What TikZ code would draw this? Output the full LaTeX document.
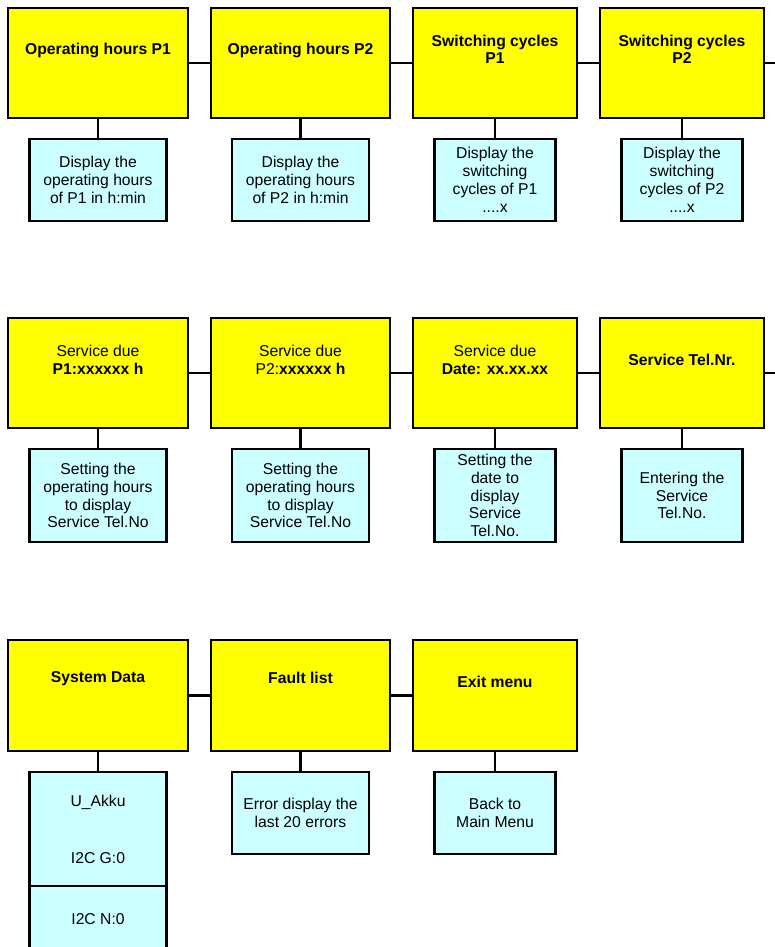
\documentclass[tikz,border=0pt]{standalone}
\usepackage{fontspec}
\setmainfont{Liberation Sans}
\definecolor{ybg}{HTML}{FFFF00}
\definecolor{bbg}{HTML}{CCFFFF}
\begin{document}
\begin{tikzpicture}[x=1pt,y=-1pt,
  every node/.style={font=\fontsize{15.7}{17.8}\selectfont},
  ybox/.style={draw, line width=2.6pt, fill=ybg, inner sep=0pt, minimum height=110pt},
  bbox/.style={draw, line width=2.6pt, fill=bbg, inner sep=0pt, align=center},
  ttl/.style={align=center, inner sep=0pt, font=\fontsize{15.7}{17}\selectfont\bfseries},
  conn/.style={line width=2.6pt}]
\useasboundingbox (0,0) rectangle (774,947);
% ---------- row 1 ----------
\node[ybox, minimum width=180pt] (y1) at (98,63) {};
\node[ybox, minimum width=179pt] (y2) at (300.5,63) {};
\node[ybox, minimum width=164pt] (y3) at (495,63) {};
\node[ybox, minimum width=164pt] (y4) at (682,63) {};
\node[ttl] (t1) at (98,50) {Operating hours P1};
\node[ttl] (t2) at (300.5,50) {Operating hours P2};
\node[ttl] (t3) at (495,49.5) {Switching cycles\\P1};
\node[ttl] (t4) at (682,49.5) {Switching cycles\\P2};
\node[bbox, minimum width=137pt, minimum height=82pt] (b1) at (98,180) {Display the\\operating hours\\of P1 in h:min};
\node[bbox, minimum width=137pt, minimum height=82pt] (b2) at (300.5,180) {Display the\\operating hours\\of P2 in h:min};
\node[bbox, minimum width=121pt, minimum height=82pt] (b3) at (495,180) {Display the\\switching\\cycles of P1\\....x};
\node[bbox, minimum width=121pt, minimum height=82pt] (b4) at (682,180) {Display the\\switching\\cycles of P2\\....x};
\coordinate (e1) at (780,63);
\draw[conn] (y1.east) -- (y2.west);
\draw[conn] (y2.east) -- (y3.west);
\draw[conn] (y3.east) -- (y4.west);
\draw[conn] (y4.east) -- (e1);
\draw[conn] (y1.south) -- (b1.north);
\draw[conn] (y2.south) -- (b2.north);
\draw[conn] (y3.south) -- (b3.north);
\draw[conn] (y4.south) -- (b4.north);
% ---------- row 2 ----------
\node[ybox, minimum width=180pt] (y5) at (98,373) {};
\node[ybox, minimum width=179pt] (y6) at (300.5,373) {};
\node[ybox, minimum width=164pt] (y7) at (495,373) {};
\node[ybox, minimum width=164pt] (y8) at (682,373) {};
\node[align=center, inner sep=0pt] (t5) at (98,360) {Service due\\\textbf{P1:xxxxxx h}};
\node[align=center, inner sep=0pt] (t6) at (300.5,360) {Service due\\P2:\textbf{xxxxxx h}};
\node[align=center, inner sep=0pt] (t7) at (495,360) {Service due\\\textbf{Date: xx.xx.xx}};
\node[ttl] (t8) at (682,360) {Service Tel.Nr.};
\node[bbox, minimum width=137pt, minimum height=93pt] (b5) at (98,495.5) {Setting the\\operating hours\\to display\\Service Tel.No};
\node[bbox, minimum width=137pt, minimum height=93pt] (b6) at (300.5,495.5) {Setting the\\operating hours\\to display\\Service Tel.No};
\node[bbox, minimum width=121pt, minimum height=93pt] (b7) at (495,495.5) {Setting the\\date to\\display\\Service\\Tel.No.};
\node[bbox, minimum width=121pt, minimum height=93pt] (b8) at (682,495.5) {Entering the\\Service\\Tel.No.};
\coordinate (e2) at (780,373);
\draw[conn] (y5.east) -- (y6.west);
\draw[conn] (y6.east) -- (y7.west);
\draw[conn] (y7.east) -- (y8.west);
\draw[conn] (y8.east) -- (e2);
\draw[conn] (y5.south) -- (b5.north);
\draw[conn] (y6.south) -- (b6.north);
\draw[conn] (y7.south) -- (b7.north);
\draw[conn] (y8.south) -- (b8.north);
% ---------- row 3 ----------
\node[ybox, minimum width=180pt, minimum height=111pt] (y9) at (98,695.5) {};
\node[ybox, minimum width=179pt, minimum height=111pt] (y10) at (300.5,695.5) {};
\node[ybox, minimum width=164pt, minimum height=111pt] (y11) at (495,695.5) {};
\node[ttl] (t9) at (98,678.5) {System Data};
\node[ttl] (t10) at (300.5,678) {Fault list};
\node[ttl] (t11) at (495,682) {Exit menu};
\node[bbox, minimum width=137pt, minimum height=114pt] (b9) at (98,829) {U\_Akku\\[39pt]I2C G:0};
\node[bbox, minimum width=137pt, minimum height=66pt] (b9b) at (98,919) {I2C N:0};
\node[bbox, minimum width=137pt, minimum height=82pt] (b10) at (300.5,813) {Error display the\\last 20 errors};
\node[bbox, minimum width=121pt, minimum height=82pt] (b11) at (495,813) {Back to\\Main Menu};
\draw[conn] (y9.east) -- (y10.west);
\draw[conn] (y10.east) -- (y11.west);
\draw[conn] (y9.south) -- (b9.north);
\draw[conn] (y10.south) -- (b10.north);
\draw[conn] (y11.south) -- (b11.north);
\end{tikzpicture}
\end{document}
